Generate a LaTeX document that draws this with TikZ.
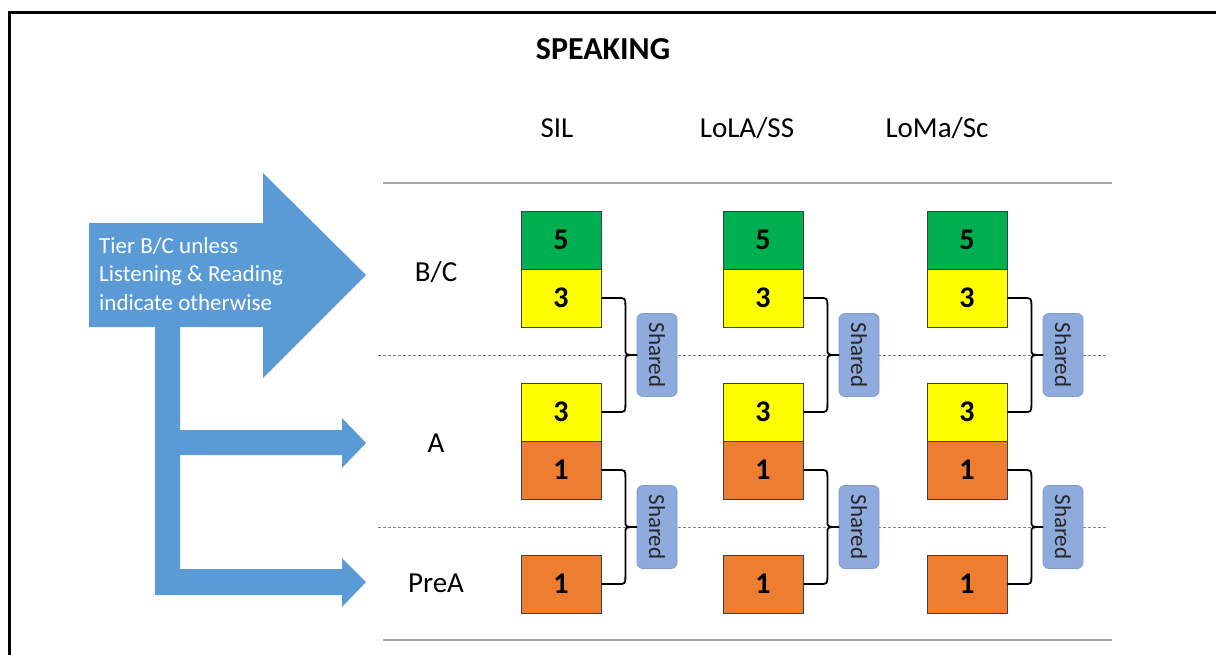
\documentclass[tikz,border=0pt]{standalone}
\usepackage{fontspec}
\setmainfont{Carlito}
\usetikzlibrary{calc}
\definecolor{arrowblue}{HTML}{5B9BD5}
\definecolor{lvgreen}{HTML}{00B050}
\definecolor{lvyellow}{HTML}{FFFF00}
\definecolor{lvorange}{HTML}{ED7D31}
\definecolor{sharedfill}{HTML}{8FAADC}
\definecolor{sharededge}{HTML}{7F9ACB}
\definecolor{rulegray}{HTML}{A6A6A6}
\definecolor{dashgray}{HTML}{808080}
\newcommand\bracepair[3]{%
  \draw[bracepath] let \p1=(#1.east), \p2=(#2.east), \p3=(#3.west) in
    (\p1) -- (\x1+16pt,\y1) .. controls (\x1+24pt,\y1) .. (\x1+24pt,\y1-8pt)
    -- (\x1+24pt,\y3+6pt) .. controls (\x1+24pt,\y3) .. (\x3,\y3)
    .. controls (\x1+24pt,\y3) .. (\x1+24pt,\y3-6pt)
    -- (\x1+24pt,\y2+8pt) .. controls (\x1+24pt,\y2) .. (\x1+16pt,\y2) -- (\p2);}
\begin{document}
\begin{tikzpicture}[x=1pt,y=-1pt,
  lvbox/.style={draw=black!75, line width=0.8pt, minimum width=80pt, minimum height=58pt, inner sep=0pt, font=\fontsize{30}{34}\selectfont\bfseries},
  g5/.style={lvbox, fill=lvgreen},
  y3/.style={lvbox, fill=lvyellow},
  o1/.style={lvbox, fill=lvorange},
  sharedbox/.style={draw=sharededge, fill=sharedfill, line width=0.8pt, rounded corners=6pt, minimum width=40pt, minimum height=83pt, inner sep=0pt, font=\fontsize{23}{26}\selectfont, text=black!85},
  lbl/.style={font=\fontsize{29}{34}\selectfont, inner sep=0pt, anchor=base},
  bracepath/.style={draw=black, line width=1.8pt, line join=round}
]
\useasboundingbox (0,0) rectangle (1216,654);
% frame
\draw[line width=3pt] (9,660) -- (9,12.5) -- (1222,12.5);
% title and headers
\node[lbl, font=\fontsize{32}{34}\selectfont\bfseries] (title) at (603,59) {SPEAKING};
\node[lbl] (hsil) at (557,137) {SIL};
\node[lbl] (hlola) at (747,137) {LoLA/SS};
\node[lbl] (hloma) at (937,137) {LoMa/Sc};
% rules
\draw[rulegray, line width=2pt] (383,183) -- (1112,183);
\draw[rulegray, line width=2pt] (383,640) -- (1112,640);
\draw[dashgray, line width=0.8pt, dash pattern=on 3pt off 2pt] (378,355) -- (1108,355);
\draw[dashgray, line width=0.8pt, dash pattern=on 3pt off 2pt] (378,527) -- (1108,527);
% blue arrow
\fill[arrowblue] (89,223) -- (263,223) -- (263,173) -- (366,275) -- (263,378) -- (263,327)
  -- (180,327) -- (180,430) -- (342,430) -- (342,418) -- (366,443) -- (342,468) -- (342,455)
  -- (180,455) -- (180,569) -- (342,569) -- (342,558) -- (366,582) -- (342,607) -- (342,595)
  -- (155,595) -- (155,327) -- (89,327) -- cycle;
\node[font=\fontsize{23}{28.5}\selectfont, text=white, align=left, anchor=north west, inner sep=0pt] (tiertext) at (99,237) {Tier B/C unless\\Listening \& Reading\\indicate otherwise};
% level labels
\node[lbl] (lbc) at (436,281) {B/C};
\node[lbl] (la) at (436,452) {A};
\node[lbl] (lprea) at (436,592) {PreA};
% columns
\foreach \c/\cx in {1/561,2/763,3/967} {
  \node[g5] (g\c) at (\cx,240) {5};
  \node[y3] (ya\c) at (\cx,298) {3};
  \node[y3] (yb\c) at (\cx,412) {3};
  \node[o1] (oa\c) at (\cx,470) {1};
  \node[o1] (ob\c) at (\cx,584) {1};
  \node[sharedbox] (su\c) at (\cx+96,355) {\rotatebox{-90}{Shared}};
  \node[sharedbox] (sl\c) at (\cx+96,527) {\rotatebox{-90}{Shared}};
  \bracepair{ya\c}{yb\c}{su\c}
  \bracepair{oa\c}{ob\c}{sl\c}
}
\end{tikzpicture}
\end{document}
